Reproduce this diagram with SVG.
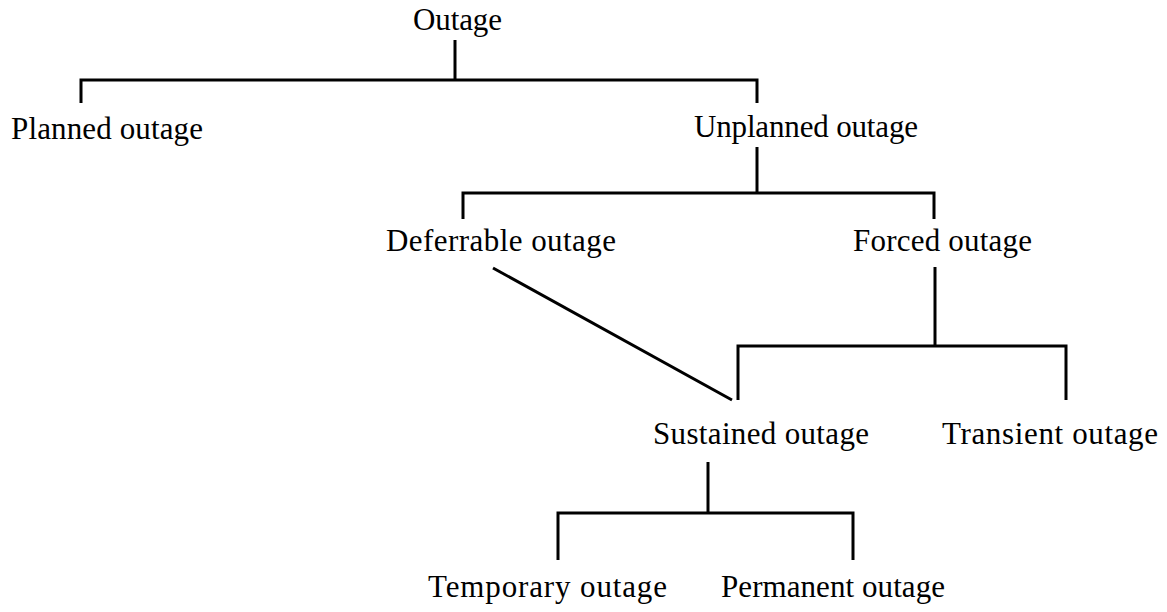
<svg xmlns="http://www.w3.org/2000/svg" width="1167" height="612" viewBox="0 0 1167 612">
  <style>
    .label { font-family: "Liberation Serif", "Times New Roman", serif; font-size: 31px; fill: #000; }
    .link { stroke: #000; stroke-width: 3; fill: none; stroke-linecap: butt; stroke-linejoin: miter; }
  </style>
  <rect width="1167" height="612" fill="#fff"/>

  <!-- tree connectors -->
  <g id="connectors">
    <path class="link" d="M455,40 V80"/>
    <path class="link" d="M81,103 V80 H757 V103"/>
    <path class="link" d="M757,147 V193"/>
    <path class="link" d="M463,219 V193 H934 V219"/>
    <path class="link" d="M935,267 V346"/>
    <path class="link" d="M738,400 V346 H1066 V400"/>
    <path class="link" d="M493,268 L732,400"/>
    <path class="link" d="M708,462 V513"/>
    <path class="link" d="M558,560 V513 H853 V560"/>
  </g>

  <!-- nodes -->
  <g id="outage"><text class="label" x="413" y="30" textLength="89" lengthAdjust="spacing">Outage</text></g>
  <g id="planned"><text class="label" x="11" y="139" textLength="192" lengthAdjust="spacing">Planned outage</text></g>
  <g id="unplanned"><text class="label" x="694" y="137" textLength="224" lengthAdjust="spacing">Unplanned outage</text></g>
  <g id="deferrable"><text class="label" x="386" y="251" textLength="230" lengthAdjust="spacing">Deferrable outage</text></g>
  <g id="forced"><text class="label" x="853" y="251" textLength="179" lengthAdjust="spacing">Forced outage</text></g>
  <g id="sustained"><text class="label" x="653" y="444" textLength="216" lengthAdjust="spacing">Sustained outage</text></g>
  <g id="transient"><text class="label" x="942" y="444" textLength="216" lengthAdjust="spacing">Transient outage</text></g>
  <g id="temporary"><text class="label" x="428" y="597" textLength="239" lengthAdjust="spacing">Temporary outage</text></g>
  <g id="permanent"><text class="label" x="721" y="597" textLength="224" lengthAdjust="spacing">Permanent outage</text></g>
</svg>
